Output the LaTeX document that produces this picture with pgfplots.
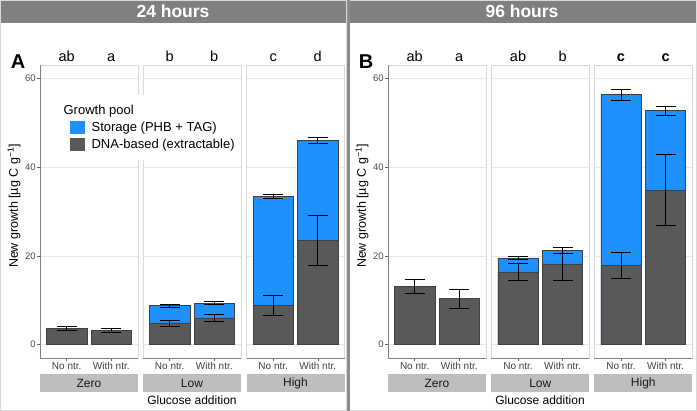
\documentclass[border=0pt]{standalone}
\usepackage{fontspec}
\setmainfont{Liberation Sans}
\usepackage{pgfplots}
\pgfplotsset{compat=1.18}
\definecolor{dodger}{HTML}{1E90FF}
\definecolor{dgray}{HTML}{595959}
\definecolor{hdr}{HTML}{808080}
\definecolor{stripc}{HTML}{BEBEBE}
\tikzset{sig/.style={font=\fontsize{14.5}{15}\selectfont, anchor=base, yshift=3.7pt}}
\pgfplotsset{
 facet/.style={scale only axis, width=98pt, height=293pt, anchor=south west,
  xmin=0.4, xmax=2.6, ymin=-3, ymax=63, clip=false,
  axis line style={draw=black!15, line width=0.5pt},
  ymajorgrids, grid style={draw=black!9, line width=0.6pt},
  xtick={1,2}, xticklabels={No ntr., With ntr.},
  ytick={0,20,40,60},
  xtick pos=left, ytick pos=left, tick align=outside, major tick length=2.7pt,
  tick style={draw=black!60, line width=0.5pt},
  xticklabel style={font=\fontsize{10}{11}\selectfont, text=black!75, inner sep=1.5pt},
  yticklabel style={font=\fontsize{9.5}{10}\selectfont, text=black!70, inner sep=1.5pt},
  /pgf/number format/assume math mode=true,
  extra description/.code={\draw[black!50, line width=0.6pt] (rel axis cs:0,0) -- (rel axis cs:1,0);},
 },
 firstfacet/.style={extra description/.append code={\draw[black!50, line width=0.6pt] (rel axis cs:0,0) -- (rel axis cs:0,1);}},
 notick/.style={yticklabels={}, ytick style={draw=none}},
 dnabar/.style={ybar, bar width=0.9, bar shift=0pt, fill=dgray, draw=black!75, line width=0.5pt, forget plot},
 stobar/.style={ybar, bar width=0.9, bar shift=0pt, fill=dodger, draw=black!75, line width=0.5pt, forget plot},
 err/.style={draw=none, mark=none, forget plot, error bars/.cd, y dir=both, y explicit,
   error bar style={draw=black, line width=0.6pt},
   error mark options={draw=black, rotate=90, mark size=10pt, line width=0.6pt}},
}
\begin{document}
\begin{tikzpicture}
% background and frames
\fill[white] (0pt,0pt) rectangle (697pt,411pt);
\fill[hdr] (0pt,388pt) rectangle (697pt,411pt);
\draw[black!15, line width=1pt] (0.5pt,0.5pt) rectangle (346.5pt,410.5pt);
\draw[black!15, line width=1pt] (349.5pt,0.5pt) rectangle (696.5pt,410.5pt);
\fill[black!45] (346.5pt,0pt) rectangle (349.5pt,411pt);
\node[text=white, font=\bfseries\fontsize{17.5}{18}\selectfont] at (173pt,400pt) {24 hours};
\node[text=white, font=\bfseries\fontsize{17.5}{18}\selectfont] at (522pt,400pt) {96 hours};
% bottom strips
\foreach \xo/\lab in {40/Zero,143/Low,246.5/High,388/Zero,491.3/Low,594.3/High}{
  \fill[stripc] ({\xo*1pt},19pt) rectangle ({(\xo+98)*1pt},37pt);
  \node[font=\fontsize{12}{13}\selectfont, text=black!90] at ({(\xo+49)*1pt},28pt) {\lab};
}
\node[font=\fontsize{12}{13}\selectfont] at (192pt,11pt) {Glucose addition};
\node[font=\fontsize{12}{13}\selectfont] at (540pt,11pt) {Glucose addition};
\node[rotate=90, font=\fontsize{12.5}{13}\selectfont] at (14pt,205pt) {New growth [µg C g\textsuperscript{−1}]};
\node[rotate=90, font=\fontsize{12.5}{13}\selectfont] at (362pt,205pt) {New growth [µg C g\textsuperscript{−1}]};
\node[font=\bfseries\fontsize{20}{20}\selectfont] at (18pt,349pt) {A};
\node[font=\bfseries\fontsize{20}{20}\selectfont] at (366pt,349pt) {B};

% ===== Panel A: 24 hours =====
\begin{axis}[facet, firstfacet, at={(40pt,53pt)}]
\addplot[dnabar] coordinates {(1,3.75) (2,3.15)};
\addplot[err] coordinates {(1,3.75) +- (0,0.5) (2,3.15) +- (0,0.45)};
\node[sig] at (axis cs:1,63) {ab};
\node[sig] at (axis cs:2,63) {a};
\end{axis}
\begin{axis}[facet, notick, at={(143pt,53pt)}]
\addplot[stobar] coordinates {(1,8.8) (2,9.35)};
\addplot[dnabar] coordinates {(1,4.9) (2,6.05)};
\addplot[err] coordinates {(1,8.8) +- (0,0.38) (2,9.35) +- (0,0.35)};
\addplot[err] coordinates {(1,4.9) +- (0,0.67) (2,6.05) +- (0,0.75)};
\node[sig] at (axis cs:1,63) {b};
\node[sig] at (axis cs:2,63) {b};
\end{axis}
\begin{axis}[facet, notick, at={(246.5pt,53pt)}]
\addplot[stobar] coordinates {(1,33.4) (2,46.0)};
\addplot[dnabar] coordinates {(1,8.9) (2,23.5)};
\addplot[err] coordinates {(1,33.4) +- (0,0.45) (2,46.0) +- (0,0.6)};
\addplot[err] coordinates {(1,8.9) +- (0,2.3) (2,23.5) +- (0,5.55)};
\node[sig] at (axis cs:1,63) {c};
\node[sig] at (axis cs:2,63) {d};
\end{axis}

% legend (panel A)
\begin{axis}[hide axis, scale only axis, width=697pt, height=411pt, at={(0pt,0pt)}, anchor=south west,
  xmin=0, xmax=697, ymin=0, ymax=411,
  legend style={at={(axis description cs:0.0947,0.7689)}, anchor=north west, draw=none, fill=white,
    font=\fontsize{13}{15}\selectfont, row sep=2pt, inner xsep=4pt, inner ysep=8pt},
  legend cell align=left]
\addlegendimage{empty legend}\addlegendentry{\hspace{-28pt}Growth pool}
\addlegendimage{legend image code/.code={\fill[dodger] (0pt,-5.5pt) rectangle (14pt,6pt);\path (19pt,0pt);}}
\addlegendentry{Storage (PHB + TAG)}
\addlegendimage{legend image code/.code={\fill[dgray] (0pt,-5.5pt) rectangle (14pt,6pt);\path (19pt,0pt);}}
\addlegendentry{DNA-based (extractable)}
\end{axis}

% ===== Panel B: 96 hours =====
\begin{axis}[facet, firstfacet, at={(388pt,53pt)}]
\addplot[dnabar] coordinates {(1,13.1) (2,10.4)};
\addplot[err] coordinates {(1,13.1) +- (0,1.55) (2,10.4) +- (0,2.15)};
\node[sig] at (axis cs:1,63) {ab};
\node[sig] at (axis cs:2,63) {a};
\end{axis}
\begin{axis}[facet, notick, at={(491.3pt,53pt)}]
\addplot[stobar] coordinates {(1,19.55) (2,21.2)};
\addplot[dnabar] coordinates {(1,16.4) (2,18.2)};
\addplot[err] coordinates {(1,19.55) +- (0,0.25) (2,21.2) +- (0,0.7)};
\addplot[err] coordinates {(1,16.4) +- (0,1.95) (2,18.2) +- (0,3.75)};
\node[sig] at (axis cs:1,63) {ab};
\node[sig] at (axis cs:2,63) {b};
\end{axis}
\begin{axis}[facet, notick, at={(594.3pt,53pt)}]
\addplot[stobar] coordinates {(1,56.3) (2,52.7)};
\addplot[dnabar] coordinates {(1,17.9) (2,34.8)};
\addplot[err] coordinates {(1,56.3) +- (0,1.15) (2,52.7) +- (0,1.1)};
\addplot[err] coordinates {(1,17.9) +- (0,3.0) (2,34.8) +- (0,8.0)};
\node[sig, font=\bfseries\fontsize{14.5}{15}\selectfont] at (axis cs:1,63) {c};
\node[sig, font=\bfseries\fontsize{14.5}{15}\selectfont] at (axis cs:2,63) {c};
\end{axis}
\end{tikzpicture}
\end{document}
